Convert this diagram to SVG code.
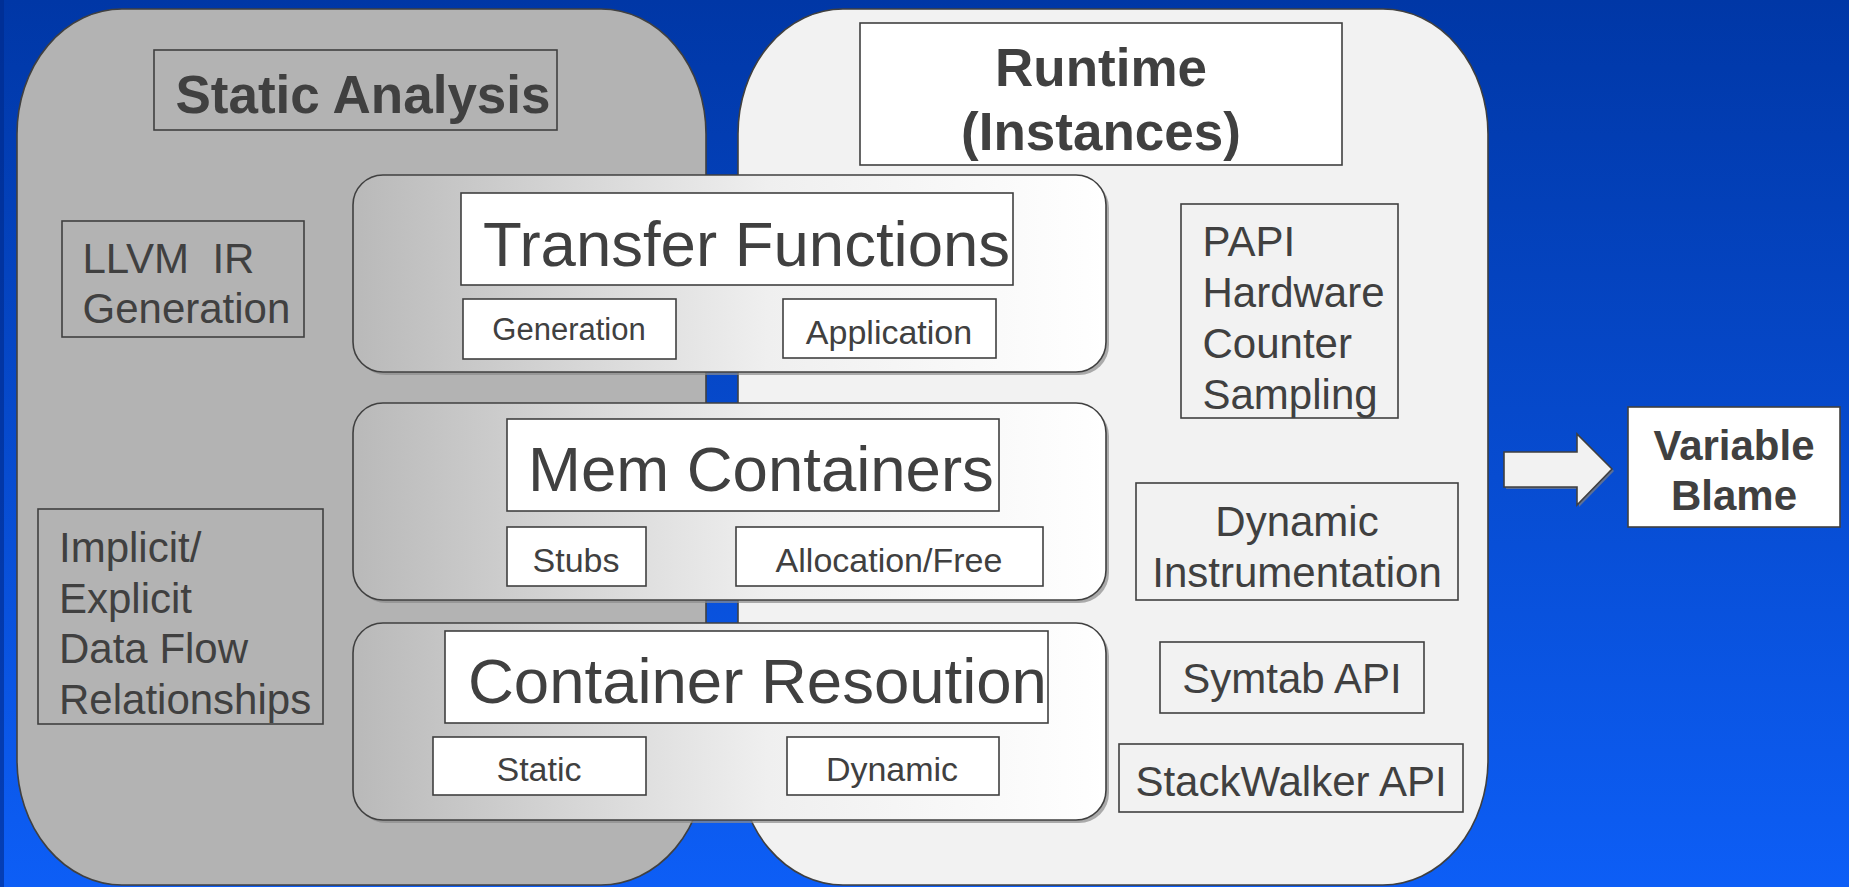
<svg xmlns="http://www.w3.org/2000/svg" width="1849" height="887" viewBox="0 0 1849 887">
  <defs>
    <linearGradient id="bg" x1="0" y1="0" x2="0" y2="1">
      <stop offset="0" stop-color="#0037a6"/>
      <stop offset="1" stop-color="#0d5ef6"/>
    </linearGradient>
    <linearGradient id="groupFill" x1="0" y1="0" x2="1" y2="0">
      <stop offset="0" stop-color="#b9b9b9"/>
      <stop offset="0.55" stop-color="#efefef"/>
      <stop offset="1" stop-color="#ffffff"/>
    </linearGradient>
    <style>
      .panel { stroke: #404040; stroke-width: 1.6; }
      .shadow { fill: #8c8c8c; opacity: 0.7; }
      .group { fill: url(#groupFill); stroke: #404040; stroke-width: 1.6; }
      .box { fill: #ffffff; stroke: #404040; stroke-width: 1.6; }
      .plain { fill: none; stroke: #404040; stroke-width: 1.6; }
      text { font-family: "Liberation Sans", Arial, sans-serif; fill: #404040; }
      .head { font-size: 53px; font-weight: bold; }
      .title { font-size: 63.5px; }
      .sub { font-size: 34px; text-anchor: middle; }
      .item { font-size: 42px; }
      .mid { text-anchor: middle; }
      .blame { font-size: 42px; font-weight: bold; text-anchor: middle; }
    </style>
  </defs>

  <!-- backdrop -->
  <rect x="0" y="0" width="1849" height="887" fill="url(#bg)"/>
  <rect x="0" y="0" width="4" height="887" fill="#002a8a" opacity="0.6"/>

  <!-- static analysis panel -->
  <g id="static-panel">
    <rect class="panel" x="17" y="9" width="689" height="876" rx="105" ry="125" fill="#b3b3b3"/>
    <rect class="plain" x="154" y="50" width="403" height="80"/>
    <text class="head mid" x="363" y="113">Static Analysis</text>
  </g>

  <!-- runtime panel -->
  <g id="runtime-panel">
    <rect class="panel" x="738" y="9" width="750" height="876" rx="105" ry="125" fill="#f2f2f2"/>
    <rect class="box" x="860" y="23" width="482" height="142"/>
    <text class="head mid" x="1101" y="86">Runtime</text>
    <text class="head mid" x="1101" y="150">(Instances)</text>
  </g>

  <g id="llvm-ir">
    <rect class="plain" x="62" y="221" width="242" height="116"/>
    <text class="item" x="82.5" y="273" style="white-space:pre">LLVM  IR</text>
    <text class="item" x="82.5" y="323">Generation</text>
  </g>

  <g id="data-flow">
    <rect class="plain" x="38" y="509" width="285" height="215"/>
    <text class="item" x="59" y="562">Implicit/</text>
    <text class="item" x="59" y="613">Explicit</text>
    <text class="item" x="59" y="663">Data Flow</text>
    <text class="item" x="59" y="714">Relationships</text>
  </g>

  <g id="papi">
    <rect class="plain" x="1181" y="204" width="217" height="214"/>
    <text class="item" x="1202.5" y="256">PAPI</text>
    <text class="item" x="1202.5" y="307">Hardware</text>
    <text class="item" x="1202.5" y="358">Counter</text>
    <text class="item" x="1202.5" y="409">Sampling</text>
  </g>

  <g id="dyn-instr">
    <rect class="plain" x="1136" y="483" width="322" height="117"/>
    <text class="item mid" x="1297" y="536">Dynamic</text>
    <text class="item mid" x="1297" y="587">Instrumentation</text>
  </g>

  <g id="symtab">
    <rect class="plain" x="1160" y="642" width="264" height="71"/>
    <text class="item mid" x="1292" y="693">Symtab API</text>
  </g>

  <g id="stackwalker">
    <rect class="plain" x="1119" y="744" width="344" height="68"/>
    <text class="item mid" x="1291" y="796">StackWalker API</text>
  </g>

  <!-- transfer functions -->
  <g id="transfer-functions">
    <rect class="shadow" x="356" y="178" width="753" height="197" rx="30"/>
    <rect class="group" x="353" y="175" width="753" height="197" rx="30"/>
    <rect class="box" x="461" y="193" width="552" height="92"/>
    <text class="title" x="483" y="266">Transfer Functions</text>
    <rect class="box" x="463" y="299" width="213" height="60"/>
    <text class="sub" x="569" y="340" style="font-size:31px">Generation</text>
    <rect class="box" x="783" y="299" width="213" height="59"/>
    <text class="sub" x="889" y="344">Application</text>
  </g>

  <!-- memory containers -->
  <g id="mem-containers">
    <rect class="shadow" x="356" y="406" width="753" height="197" rx="30"/>
    <rect class="group" x="353" y="403" width="753" height="197" rx="30"/>
    <rect class="box" x="507" y="419" width="492" height="92"/>
    <text class="title" x="528" y="491">Mem Containers</text>
    <rect class="box" x="507" y="527" width="139" height="59"/>
    <text class="sub" x="576" y="572">Stubs</text>
    <rect class="box" x="736" y="527" width="307" height="59"/>
    <text class="sub" x="889" y="572">Allocation/Free</text>
  </g>

  <!-- container resolution -->
  <g id="container-resolution">
    <rect class="shadow" x="356" y="626" width="753" height="197" rx="30"/>
    <rect class="group" x="353" y="623" width="753" height="197" rx="30"/>
    <rect class="box" x="445" y="631" width="603" height="92"/>
    <text class="title" x="468" y="703">Container Resoution</text>
    <rect class="box" x="433" y="737" width="213" height="58"/>
    <text class="sub" x="539" y="781">Static</text>
    <rect class="box" x="787" y="737" width="212" height="58"/>
    <text class="sub" x="892" y="781">Dynamic</text>
  </g>

  <!-- result -->
  <g id="variable-blame">
    <rect class="box" x="1628" y="407" width="212" height="120"/>
    <text class="blame" x="1734" y="460">Variable</text>
    <text class="blame" x="1734" y="510">Blame</text>
  </g>

  <g id="connectors">
    <polygon points="1506,454 1579,454 1579,436 1614,471 1579,507 1579,489 1506,489" fill="#7f7f7f" opacity="0.7"/>
    <polygon points="1504,452 1577,452 1577,434 1612,469 1577,505 1577,487 1504,487" fill="#f2f2f2" stroke="#404040" stroke-width="1.6"/>
  </g>
</svg>
